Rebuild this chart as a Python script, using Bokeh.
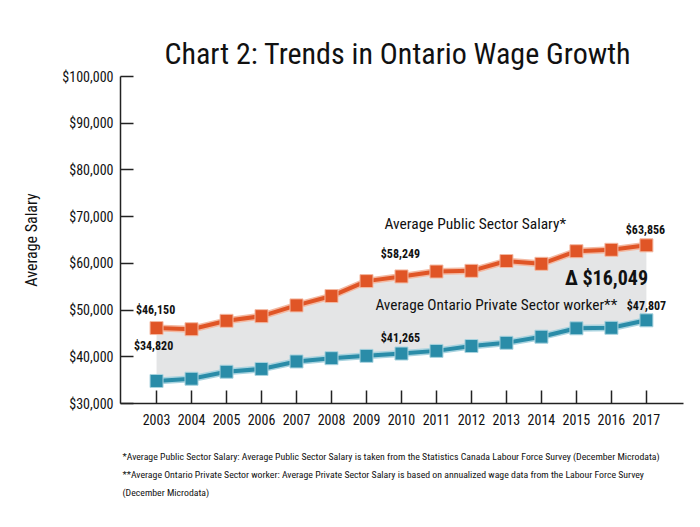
from bokeh.plotting import figure
from bokeh.models import Label, NumeralTickFormatter, Range1d, FixedTicker, ColumnDataSource, Title
from bokeh.core.properties import value
from bokeh.embed import file_html
from bokeh.resources import INLINE

years = list(range(2003, 2018))
public = [46150, 45900, 47700, 48700, 51000, 53000, 56200, 57200, 58249, 58400, 60500, 59900, 62600, 62900, 63856]
private = [34820, 35300, 36800, 37400, 39000, 39700, 40200, 40700, 41265, 42300, 43000, 44300, 46100, 46200, 47807]
y_ticks = [30000, 40000, 50000, 60000, 70000, 80000, 90000, 100000]

label_years = [2003, 2011, 2017]
public_label_text = ["$46,150", "$58,249", "$63,856"]
private_label_text = ["$34,820", "$41,265", "$47,807"]

title_text = "Chart 2: Trends in Ontario Wage Growth"
public_name = "Average Public Sector Salary*"
private_name = "Average Ontario Private Sector worker**"
delta_text = "\u0394 $16,049"
footnotes = [
    "*Average Public Sector Salary: Average Public Sector Salary is taken from the Statistics Canada Labour Force Survey (December Microdata)",
    "**Average Ontario Private Sector worker: Average Private Sector Salary is based on annualized wage data from the Labour Force Survey",
    "(December Microdata)",
]

FONT = "Roboto Condensed"
ORANGE = "#e05526"
TEAL = "#2a8ca8"
GREY = "#e4e5e6"

p = figure(width=692, height=519, output_backend="svg", toolbar_location=None,
           x_range=Range1d(2001.97, 2018.06), y_range=Range1d(30000, 100000),
           min_border_left=120, min_border_right=9, min_border_top=76, min_border_bottom=115)
p.outline_line_color = None
p.grid.visible = False
p.background_fill_color = "white"

p.title.text = title_text
p.title.text_font = FONT
p.title.text_font_size = "30px"
p.title.text_font_style = "normal"
p.title.align = "left"
p.title.offset = 44
p.title.standoff = 11
p.title.text_color = "#111111"

for ax in (p.xaxis[0], p.yaxis[0]):
    ax.major_tick_in = 13
    ax.major_tick_out = 0
    ax.minor_tick_line_color = None
    ax.axis_line_color = "#222222"
    ax.axis_line_width = 1.5
    ax.major_tick_line_color = "#222222"
    ax.major_tick_line_width = 1.5
    ax.major_label_text_font = FONT
    ax.major_label_text_font_size = "14px"
    ax.major_label_text_color = "#111111"

p.xaxis.ticker = FixedTicker(ticks=years)
p.xaxis.major_label_standoff = 10
p.yaxis.ticker = FixedTicker(ticks=y_ticks)
p.yaxis.formatter = NumeralTickFormatter(format="$0,0")
p.yaxis.major_label_standoff = 7
p.yaxis.axis_label = "Average Salary"
p.yaxis.axis_label_text_font = FONT
p.yaxis.axis_label_text_font_size = "16px"
p.yaxis.axis_label_text_font_style = "normal"
p.yaxis.axis_label_text_color = "#111111"
p.yaxis.axis_label_standoff = 18

src = ColumnDataSource(dict(x=years, pub=public, pri=private))
p.varea(x="x", y1="pri", y2="pub", source=src, fill_color=GREY)

for col, color, halo in (("pub", ORANGE, "#f3b9a2"), ("pri", TEAL, "#a9d3df")):
    p.line(x="x", y=col, source=src, line_color=halo, line_width=7)
    p.line(x="x", y=col, source=src, line_color=color, line_width=4)
    p.scatter(x="x", y=col, source=src, marker="square", size=13,
              fill_color=color, line_color=halo, line_width=1)

pub_idx = [years.index(y) for y in label_years]
pub_src = ColumnDataSource(dict(x=label_years, y=[public[i] for i in pub_idx], t=public_label_text,
                                dx=[-1, -36, -1], dy=[-18, -18, -15]))
pri_src = ColumnDataSource(dict(x=label_years, y=[private[i] for i in pub_idx], t=private_label_text,
                                dx=[-3, -36, 0], dy=[-35, -13, -14]))
for s in (pub_src, pri_src):
    p.text(x="x", y="y", text="t", x_offset="dx", y_offset="dy", source=s,
           text_font=value(FONT), text_font_size="12px", text_font_style="bold",
           text_color="#111111", text_align="center", text_baseline="middle")

p.add_layout(Label(x=2012.11, y=68366, text=public_name, text_font=FONT, text_font_size="15.5px",
                   text_color="#111111", text_align="center", text_baseline="middle"))
p.add_layout(Label(x=2012.71, y=51054, text=private_name, text_font=FONT, text_font_size="15.3px",
                   text_color="#111111", text_align="center", text_baseline="middle"))
p.add_layout(Label(x=2015.86, y=56824, text=delta_text, text_font=FONT, text_font_size="20px",
                   text_font_style="bold", text_color="#111111", text_align="center", text_baseline="middle"))

p.add_layout(Title(text="\n".join(footnotes), text_font=FONT, text_font_size="9.8px", text_font_style="normal",
                   text_color="#111111", align="left", offset=2, standoff=43, text_line_height=1.65), "below")

open("out.html", "w").write(file_html(p, INLINE))
